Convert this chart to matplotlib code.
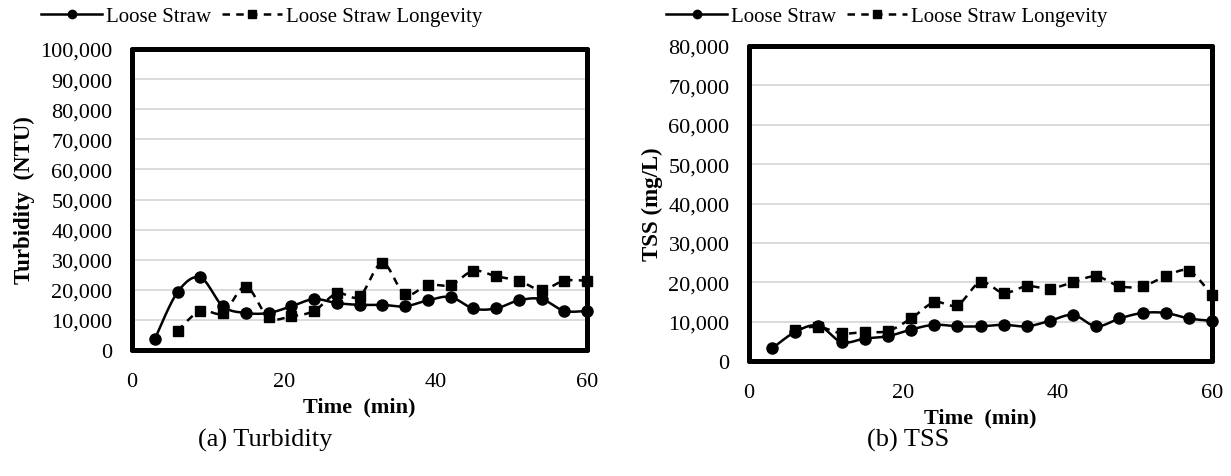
import numpy as np
import matplotlib
matplotlib.use('Agg')
import matplotlib.pyplot as plt
from matplotlib.lines import Line2D
from matplotlib.ticker import FuncFormatter

plt.rcParams['font.family'] = ['Liberation Serif', 'DejaVu Serif']

# --- data ---
time_ls = [3, 6, 9, 12, 15, 18, 21, 24, 27, 30, 33, 36, 39, 42, 45, 48, 51, 54, 57, 60]
time_lsl = [6, 9, 12, 15, 18, 21, 24, 27, 30, 33, 36, 39, 42, 45, 48, 51, 54, 57, 60]

turb_ls = [3600, 19200, 24100, 14500, 12300, 12300, 14500, 16900, 15600, 15000,
           15000, 14500, 16500, 17600, 13800, 13800, 16500, 16900, 13000, 13000]
turb_lsl = [6400, 13000, 12300, 21000, 10800, 11200, 13000, 18800, 17800, 28900,
            18500, 21600, 21600, 26300, 24500, 23000, 20000, 23000, 23000]

tss_ls = [3200, 7400, 9000, 4800, 5700, 6300, 8000, 9200, 8800, 8800,
          9200, 8800, 10200, 11700, 8800, 10800, 12200, 12200, 10800, 10200]
tss_lsl = [8000, 8700, 7000, 7400, 7600, 10800, 14900, 14200, 20000, 17300,
           19000, 18400, 20000, 21500, 19000, 19000, 21500, 22900, 16700]

W, H = 1231, 477
DASH = (0, (3, 2.5))


def smooth(x, y, n=16):
    # Excel style smoothed line (bezier through the points)
    p = np.column_stack([x, y]).astype(float)
    p = np.vstack([p[0], p, p[-1]])
    xs, ys = [], []
    t = np.linspace(0, 1, n)
    for i in range(1, len(p) - 2):
        p0, p1, p2, p3 = p[i - 1], p[i], p[i + 1], p[i + 2]
        c1 = p1 + (p2 - p0) / 6
        c2 = p2 - (p3 - p1) / 6
        seg = ((1 - t)[:, None] ** 3 * p1 + 3 * ((1 - t) ** 2 * t)[:, None] * c1
               + 3 * ((1 - t) * t ** 2)[:, None] * c2 + (t ** 3)[:, None] * p2)
        xs.extend(seg[:, 0])
        ys.extend(seg[:, 1])
    return xs, ys


def draw(ax, y1, y2, ymax, ylabel):
    sx, sy = smooth(time_ls, y1)
    ax.plot(sx, sy, color='black', lw=1.8, zorder=3, clip_on=False)
    ax.plot(time_ls, y1, 'o', color='black', ms=8, zorder=4, clip_on=False)
    sx, sy = smooth(time_lsl, y2)
    ax.plot(sx, sy, color='black', lw=1.8, ls=DASH, zorder=3, clip_on=False)
    ax.plot(time_lsl, y2, 's', color='black', ms=7.5, zorder=4, clip_on=False)

    ax.set_xlim(0, 60)
    ax.set_ylim(0, ymax)
    ax.set_xticks([0, 20, 40, 60])
    ax.set_yticks(np.arange(0, ymax + 1, 10000))
    ax.yaxis.set_major_formatter(FuncFormatter(lambda v, p: f'{int(v):,}'))
    ax.grid(axis='y', color='#d9d9d9', lw=1.3)
    ax.set_axisbelow(True)
    for s in ax.spines.values():
        s.set_linewidth(3.6)
        s.set_capstyle('round')
        s.set_joinstyle('round')
    ax.tick_params(length=0, labelsize=16)
    ax.tick_params(axis='x', pad=16)
    ax.tick_params(axis='y', pad=14)
    ax.set_xlabel('Time  (min)', fontsize=16, fontweight='bold', labelpad=4)
    ax.set_ylabel(ylabel, fontsize=16.5, fontweight='bold', labelpad=4)


fig = plt.figure(figsize=(W / 100, H / 100), dpi=100)
ax1 = fig.add_axes([132 / W, 126 / H, 455 / W, 301 / H])
ax2 = fig.add_axes([749 / W, 115 / H, 463 / W, 315 / H])

draw(ax1, turb_ls, turb_lsl, 100000, 'Turbidity  (NTU)')
draw(ax2, tss_ls, tss_lsl, 80000, 'TSS (mg/L)')

handles = [Line2D([], [], color='black', lw=1.8, marker='o', ms=6),
           Line2D([], [], color='black', lw=1.8, ls=DASH, marker='s', ms=6)]
labels = ['Loose Straw', 'Loose Straw Longevity']
for cx in (262 / W, 887 / W):
    fig.legend(handles, labels, loc='center', bbox_to_anchor=(cx, 1 - 17 / H), ncol=2,
               frameon=False, fontsize=15, handlelength=2.9, columnspacing=0.5,
               handletextpad=0.2, borderpad=0)

fig.text(265 / W, 1 - 440 / H, '(a) Turbidity', fontsize=19, ha='center', va='center')
fig.text(908 / W, 1 - 440 / H, '(b) TSS', fontsize=19, ha='center', va='center')

fig.savefig('out.png', dpi=100)
